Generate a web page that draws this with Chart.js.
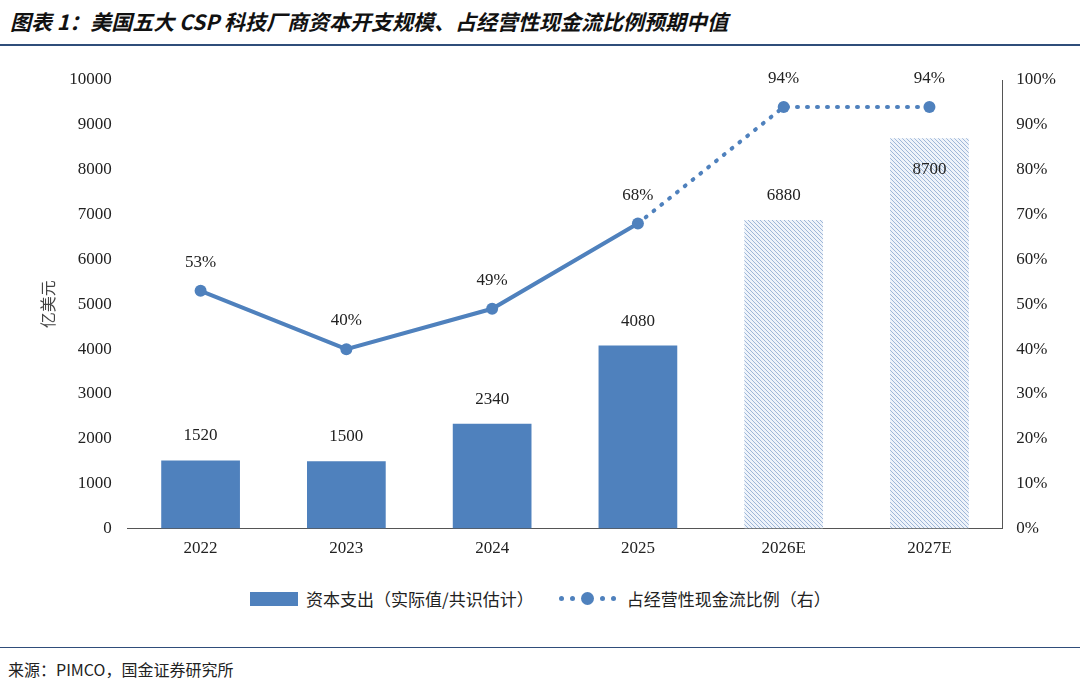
<!DOCTYPE html>
<html><head><meta charset="utf-8">
<script src="https://cdn.jsdelivr.net/npm/chart.js@4"></script>
<style>
body{margin:0;width:1080px;height:688px;background:#fff;position:relative;overflow:hidden;font-family:"Noto Sans CJK SC",sans-serif}
#title{position:absolute;left:10px;top:6px;font-size:21px;font-weight:bold;font-style:italic;color:#111}
.rule{position:absolute;left:0;width:1080px;height:2px;background:#2f4d7a}
#src{position:absolute;left:8px;top:657px;font-size:16px;color:#222}
#wrap{position:absolute;left:0;top:60px;width:1080px;height:520px}
#legend{position:absolute;top:586px;left:250px;font-size:17px;color:#222;display:flex;align-items:center}
.sw{display:inline-block;width:48px;height:14px;background:#4f81bd;margin-right:8px}
.dot{display:inline-block;width:5px;height:5px;border-radius:50%;background:#4f81bd;margin:0 3px}
.big{width:13px;height:13px}
</style></head><body>
<div id="title">图表 1：美国五大 CSP 科技厂商资本开支规模、占经营性现金流比例预期中值</div>
<div class="rule" style="top:44px"></div>
<div id="wrap"><canvas id="c"></canvas></div>
<div id="legend"><span class="sw"></span>资本支出（实际值/共识估计）<span style="margin-left:22px"></span><span class="dot"></span><span class="dot"></span><span class="dot big"></span><span class="dot"></span><span class="dot"></span><span style="margin-left:8px">占经营性现金流比例（右）</span></div>
<div class="rule" style="top:647px;height:1px"></div>
<div id="src">来源：PIMCO，国金证券研究所</div>
<script>
const categories = ["2022","2023","2024","2025","2026E","2027E"];
const capex = [1520,1500,2340,4080,6880,8700];
const ratio = [53,40,49,68,94,94];
const estimated = [false,false,false,false,true,true];

const blue = "#4f81bd";
function hatch(){
  const p=document.createElement("canvas");p.width=4;p.height=4;
  const g=p.getContext("2d");g.fillStyle="#eef3fa";g.fillRect(0,0,4,4);
  g.strokeStyle="#9fb7d8";g.lineWidth=1;
  g.beginPath();g.moveTo(0,0);g.lineTo(4,4);g.moveTo(-1,3);g.lineTo(1,5);g.moveTo(3,-1);g.lineTo(5,1);g.stroke();
  return g.createPattern(p,"repeat");
}
const pat = hatch();
const serif = "'Liberation Serif', serif";

const labels = {
  id:"labels",
  afterDatasetsDraw(ch){
    const ctx=ch.ctx;ctx.save();ctx.font="17px "+serif;ctx.fillStyle="#222";ctx.textAlign="center";
    ch.getDatasetMeta(0).data.forEach((b,i)=>{
      const y = i===5 ? b.y+36 : b.y-20;
      ctx.fillText(String(capex[i]),b.x,y);
    });
    ch.getDatasetMeta(1).data.forEach((p,i)=>{
      ctx.fillText(ratio[i]+"%",p.x,p.y-24);
    });
    ctx.restore();
  }
};

new Chart(document.getElementById("c"),{
  data:{labels:categories,datasets:[
    {type:"bar",data:capex,yAxisID:"y",order:2,
     backgroundColor:capex.map((v,i)=>estimated[i]?pat:blue),barPercentage:0.54,categoryPercentage:1},
    {type:"line",data:ratio,yAxisID:"y1",order:1,borderColor:blue,backgroundColor:blue,
     borderWidth:4,pointRadius:6,pointBackgroundColor:blue,pointBorderWidth:0,
     segment:{borderDash:c=>c.p0DataIndex>=3?[1,9]:undefined,borderCapStyle:c=>c.p0DataIndex>=3?"round":"butt"}}
  ]},
  options:{responsive:true,maintainAspectRatio:false,animation:false,
    layout:{padding:{left:34,right:16,top:20,bottom:11}},
    plugins:{legend:{display:false},tooltip:{enabled:false}},
    scales:{
      x:{grid:{display:false,drawTicks:false},border:{color:"#555"},
         ticks:{color:"#222",font:{size:17,family:serif},padding:10}},
      y:{min:0,max:10000,ticks:{stepSize:1000,color:"#222",callback:v=>String(v),font:{size:17,family:serif},padding:8},
         grid:{display:false},border:{display:false},
         title:{display:true,text:"亿美元",color:"#444",font:{size:16,family:"'Noto Sans CJK SC'"}}},
      y1:{position:"right",min:0,max:100,ticks:{stepSize:10,color:"#222",callback:v=>v+"%",font:{size:17,family:serif},padding:8},
         grid:{display:false,drawTicks:true,tickLength:6,tickColor:"#555"},border:{color:"#555"}}
    }},
  plugins:[labels]
});
</script></body></html>
